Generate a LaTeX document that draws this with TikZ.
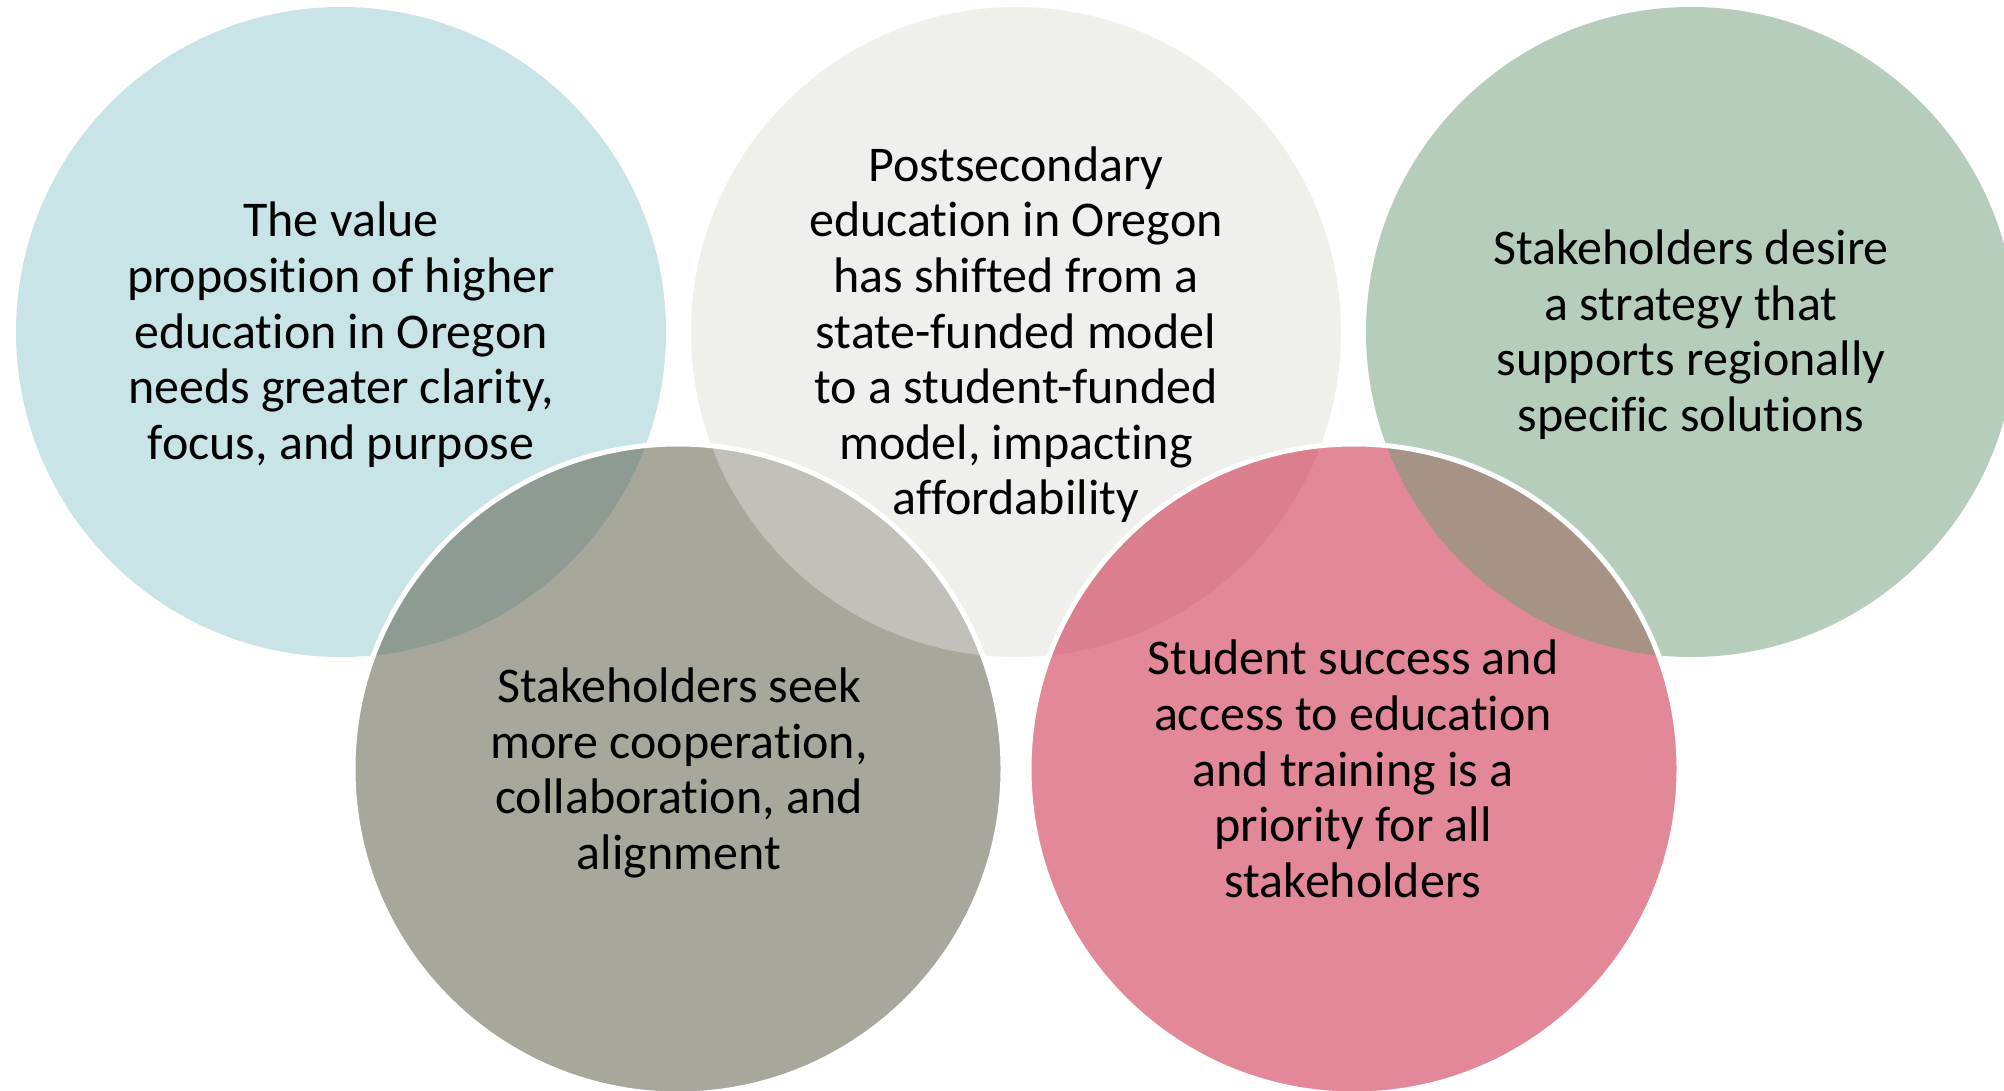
\documentclass[tikz,border=0pt]{standalone}
\usepackage{fontspec}
\setmainfont{Carlito}[RawFeature=-liga]
\definecolor{cblue}{HTML}{C8E4E6}
\definecolor{cgray}{HTML}{EFEFEB}
\definecolor{cgreen}{HTML}{B5CDBA}
\definecolor{colive}{HTML}{A7A79B}
\definecolor{cpink}{HTML}{E38898}
\definecolor{xob}{HTML}{8E9B92}
\definecolor{xog}{HTML}{C1C1B9}
\definecolor{xpg}{HTML}{DB7F8F}
\definecolor{xpn}{HTML}{A69385}
\tikzset{
  disc/.style={circle, minimum size=650pt, inner sep=0pt, draw=none},
  rim/.style={draw=white, line width=5pt},
  label/.style={align=center, inner sep=0pt, text=black,
    font=\fontsize{50}{55.6}\selectfont}
}
\begin{document}
\begin{tikzpicture}[x=1pt,y=-1pt]
\useasboundingbox (0,0) rectangle (2004,1091);
\clip (0,0) rectangle (2004,1091);
% upper circles
\node[disc, fill=cblue]  (c1) at (341,332) {};
\node[disc, fill=cgray]  (c2) at (1016,332) {};
\node[disc, fill=cgreen] (c3) at (1691,332) {};
% lower circles
\node[disc, fill=colive] (c4) at (678,769) {};
\node[disc, fill=cpink]  (c5) at (1354,769) {};
% overlaps
\begin{scope}
  \clip (c4.center) circle (325);
  \fill[xob] (c1.center) circle (325);
  \fill[xog] (c2.center) circle (325);
\end{scope}
\begin{scope}
  \clip (c5.center) circle (325);
  \fill[xpg] (c2.center) circle (325);
  \fill[xpn] (c3.center) circle (325);
\end{scope}
% white rims of lower circles
\draw[rim] (c4.center) circle (325);
\draw[rim] (c5.center) circle (325);
% texts
\node[label] (t1) at (341,337) {\strut The value\\\strut proposition of higher\\\strut education in Oregon\\\strut needs greater clarity,\\\strut focus, and purpose};
\node[label] (t2) at (1016,337) {\strut Postsecondary\\\strut education in Oregon\\\strut has shifted from a\\\strut state-funded model\\\strut to a student-funded\\\strut model, impacting\\\strut affordability};
\node[label] (t3) at (1691,337) {\strut Stakeholders desire\\\strut a strategy that\\\strut supports regionally\\\strut specific solutions};
\node[label] (t4) at (679,775) {\strut Stakeholders seek\\\strut more cooperation,\\\strut collaboration, and\\\strut alignment};
\node[label] (t5) at (1353,775) {\strut Student success and\\\strut access to education\\\strut and training is a\\\strut priority for all\\\strut stakeholders};
\end{tikzpicture}
\end{document}
